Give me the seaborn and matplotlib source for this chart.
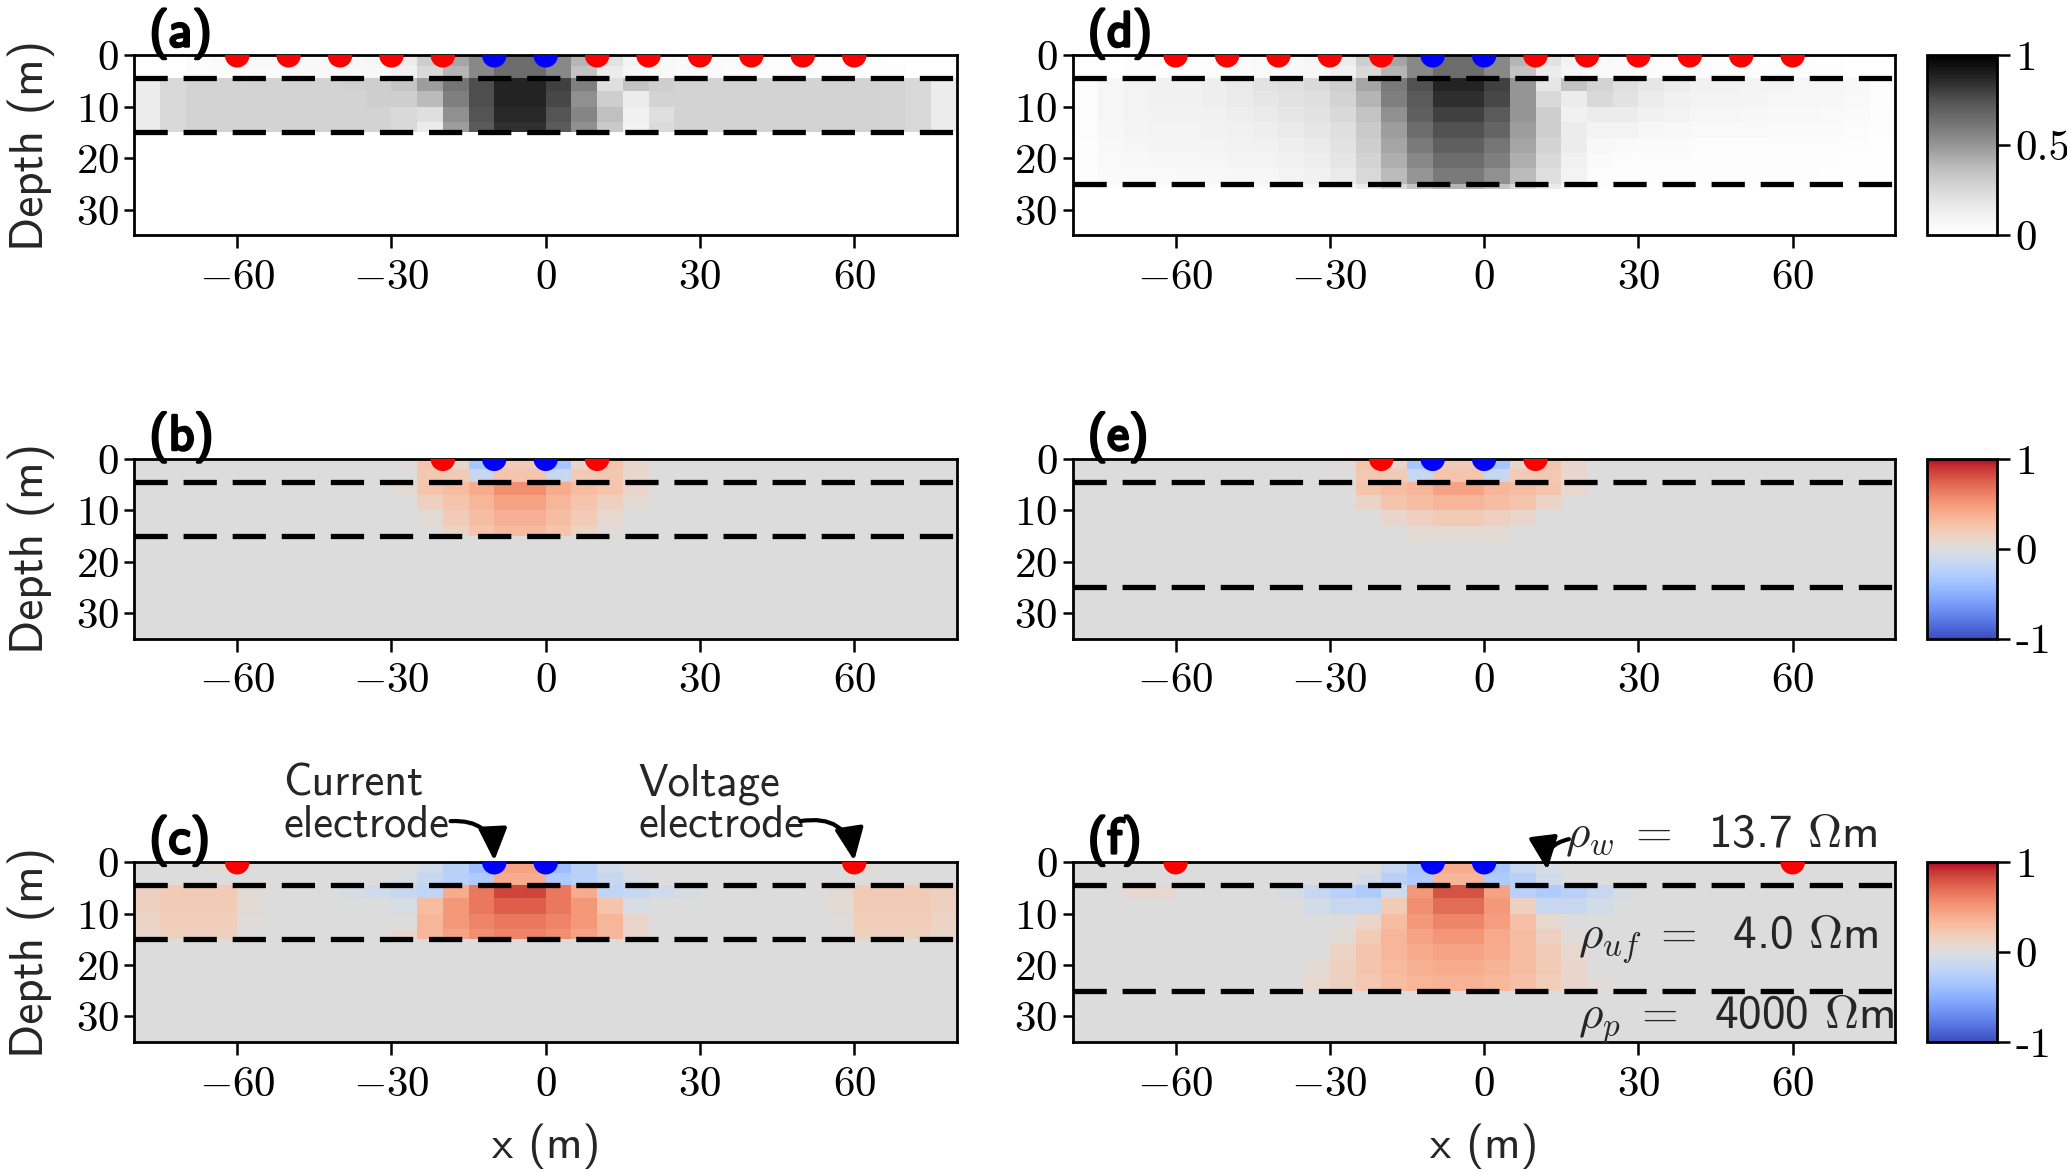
import numpy as np
import pandas as pd
import seaborn as sns
import matplotlib
matplotlib.use("Agg")
import matplotlib.pyplot as plt
from matplotlib import patheffects
from matplotlib.ticker import FuncFormatter

# ---- data -------------------------------------------------------------
x_edges = np.arange(-80, 81, 5)          # 5 m cells from -80 to 80
depth_edges_thin = [0, 2, 4.5, 7, 10, 13, 15, 35]
depth_edges_thick = [0, 2, 4.5, 7, 10, 13, 16, 19, 22, 25, 26, 35]
interfaces_thin = [4.5, 15]
interfaces_thick = [4.5, 25]

current_x = [-10, 0]
potential_all = [-60, -50, -40, -30, -20, 10, 20, 30, 40, 50, 60]
potential_near = [-20, 10]
potential_far = [-60, 60]

# cumulative sensitivity (percent), rows = depth cells, cols = x cells
sens_a = [
    [0, 0, 3, 4, 5, 5, 6, 6, 7, 8, 15, 30, 45, 55, 65, 65, 55, 40, 20, 10, 6, 5, 4, 4, 3, 3, 3, 3, 2, 2, 0, 0],
    [0, 0, 3, 3, 4, 4, 5, 5, 6, 7, 12, 25, 40, 55, 65, 65, 55, 35, 15, 8, 5, 4, 4, 3, 3, 3, 3, 2, 2, 2, 0, 0],
    [15, 25, 28, 28, 28, 28, 28, 28, 29, 30, 34, 48, 62, 76, 88, 88, 80, 58, 22, 35, 30, 28, 28, 28, 28, 28, 28, 28, 28, 27, 25, 15],
    [15, 25, 28, 28, 28, 28, 28, 28, 28, 30, 30, 38, 58, 76, 88, 88, 78, 52, 30, 15, 28, 28, 28, 28, 28, 28, 28, 28, 28, 27, 25, 15],
    [15, 25, 28, 28, 28, 28, 28, 28, 28, 28, 25, 22, 52, 74, 86, 86, 74, 56, 36, 12, 22, 28, 28, 28, 28, 28, 28, 28, 28, 27, 25, 15],
    [15, 25, 28, 28, 28, 28, 28, 28, 28, 28, 25, 15, 48, 72, 84, 84, 72, 52, 32, 10, 24, 28, 28, 28, 28, 28, 28, 28, 28, 27, 25, 15],
    [0, 0, 0, 0, 0, 0, 0, 0, 0, 0, 0, 0, 0, 0, 0, 0, 0, 0, 0, 0, 0, 0, 0, 0, 0, 0, 0, 0, 0, 0, 0, 0],
]
sens_d = [
    [0, 0, 2, 3, 3, 3, 4, 5, 6, 8, 15, 30, 45, 55, 65, 65, 55, 40, 20, 10, 5, 4, 3, 3, 3, 3, 2, 2, 2, 2, 0, 0],
    [0, 0, 2, 2, 3, 3, 4, 5, 6, 7, 12, 25, 40, 55, 65, 65, 55, 35, 15, 8, 5, 4, 3, 3, 3, 3, 2, 2, 2, 2, 0, 0],
    [3, 8, 10, 12, 12, 14, 16, 20, 22, 25, 30, 45, 60, 75, 88, 88, 80, 50, 18, 35, 28, 22, 18, 15, 12, 12, 10, 10, 8, 8, 6, 3],
    [3, 8, 10, 12, 12, 14, 16, 18, 20, 22, 28, 40, 58, 72, 85, 85, 78, 50, 25, 15, 25, 20, 15, 12, 10, 10, 9, 8, 8, 7, 5, 3],
    [3, 8, 10, 11, 11, 12, 14, 16, 18, 20, 25, 35, 52, 70, 80, 80, 72, 50, 30, 12, 15, 15, 12, 10, 8, 8, 7, 6, 6, 5, 4, 2],
    [3, 7, 9, 10, 10, 11, 12, 14, 16, 18, 22, 32, 48, 65, 75, 75, 68, 48, 30, 15, 10, 10, 8, 6, 5, 5, 5, 4, 4, 4, 3, 2],
    [2, 6, 8, 9, 9, 10, 11, 12, 14, 16, 20, 30, 45, 60, 70, 70, 62, 45, 28, 15, 6, 5, 4, 4, 3, 3, 3, 3, 3, 3, 2, 1],
    [2, 5, 6, 7, 7, 8, 9, 10, 12, 14, 18, 28, 42, 55, 65, 65, 58, 42, 25, 12, 4, 3, 3, 3, 2, 2, 2, 2, 2, 2, 1, 1],
    [2, 4, 5, 5, 6, 6, 7, 8, 10, 12, 16, 25, 38, 50, 60, 60, 52, 38, 22, 10, 3, 2, 2, 2, 2, 2, 2, 2, 2, 1, 1, 1],
    [1, 2, 2, 2, 2, 3, 3, 4, 5, 6, 8, 15, 25, 35, 40, 40, 35, 25, 15, 6, 2, 1, 1, 1, 1, 1, 1, 1, 1, 1, 1, 0],
    [0, 0, 0, 0, 0, 0, 0, 0, 0, 0, 0, 0, 0, 0, 0, 0, 0, 0, 0, 0, 0, 0, 0, 0, 0, 0, 0, 0, 0, 0, 0, 0],
]
sens_b = [
    [0, 0, 0, 0, 0, 0, 0, 0, 0, 0, 3, 25, 10, -35, 20, 20, -35, 10, 25, 10, 0, 0, 0, 0, 0, 0, 0, 0, 0, 0, 0, 0],
    [0, 0, 0, 0, 0, 0, 0, 0, 0, 0, 0, 22, 20, -15, 25, 25, -15, 20, 22, 8, 0, 0, 0, 0, 0, 0, 0, 0, 0, 0, 0, 0],
    [0, 0, 0, 0, 0, 0, 0, 0, 0, 0, 5, 25, 30, 40, 55, 55, 40, 30, 25, 10, 0, 0, 0, 0, 0, 0, 0, 0, 0, 0, 0, 0],
    [0, 0, 0, 0, 0, 0, 0, 0, 0, 0, 0, 15, 25, 35, 45, 45, 35, 25, 15, 5, 0, 0, 0, 0, 0, 0, 0, 0, 0, 0, 0, 0],
    [0, 0, 0, 0, 0, 0, 0, 0, 0, 0, 0, 5, 20, 30, 38, 38, 30, 20, 8, 0, 0, 0, 0, 0, 0, 0, 0, 0, 0, 0, 0, 0],
    [0, 0, 0, 0, 0, 0, 0, 0, 0, 0, 0, 0, 12, 25, 32, 32, 25, 12, 3, 0, 0, 0, 0, 0, 0, 0, 0, 0, 0, 0, 0, 0],
    [0, 0, 0, 0, 0, 0, 0, 0, 0, 0, 0, 0, 0, 0, 0, 0, 0, 0, 0, 0, 0, 0, 0, 0, 0, 0, 0, 0, 0, 0, 0, 0],
]
sens_e = [
    [0, 0, 0, 0, 0, 0, 0, 0, 0, 0, 3, 25, 10, -35, 20, 20, -35, 10, 25, 10, 0, 0, 0, 0, 0, 0, 0, 0, 0, 0, 0, 0],
    [0, 0, 0, 0, 0, 0, 0, 0, 0, 0, 0, 22, 20, -15, 25, 25, -15, 20, 22, 8, 0, 0, 0, 0, 0, 0, 0, 0, 0, 0, 0, 0],
    [0, 0, 0, 0, 0, 0, 0, 0, 0, 0, 0, 25, 30, 35, 45, 45, 35, 30, 25, 8, 0, 0, 0, 0, 0, 0, 0, 0, 0, 0, 0, 0],
    [0, 0, 0, 0, 0, 0, 0, 0, 0, 0, 0, 12, 25, 30, 35, 35, 30, 25, 12, 0, 0, 0, 0, 0, 0, 0, 0, 0, 0, 0, 0, 0],
    [0, 0, 0, 0, 0, 0, 0, 0, 0, 0, 0, 0, 10, 15, 20, 20, 15, 10, 0, 0, 0, 0, 0, 0, 0, 0, 0, 0, 0, 0, 0, 0],
    [0, 0, 0, 0, 0, 0, 0, 0, 0, 0, 0, 0, 0, 5, 6, 6, 5, 0, 0, 0, 0, 0, 0, 0, 0, 0, 0, 0, 0, 0, 0, 0],
    [0, 0, 0, 0, 0, 0, 0, 0, 0, 0, 0, 0, 0, 0, 0, 0, 0, 0, 0, 0, 0, 0, 0, 0, 0, 0, 0, 0, 0, 0, 0, 0],
    [0, 0, 0, 0, 0, 0, 0, 0, 0, 0, 0, 0, 0, 0, 0, 0, 0, 0, 0, 0, 0, 0, 0, 0, 0, 0, 0, 0, 0, 0, 0, 0],
    [0, 0, 0, 0, 0, 0, 0, 0, 0, 0, 0, 0, 0, 0, 0, 0, 0, 0, 0, 0, 0, 0, 0, 0, 0, 0, 0, 0, 0, 0, 0, 0],
    [0, 0, 0, 0, 0, 0, 0, 0, 0, 0, 0, 0, 0, 0, 0, 0, 0, 0, 0, 0, 0, 0, 0, 0, 0, 0, 0, 0, 0, 0, 0, 0],
    [0, 0, 0, 0, 0, 0, 0, 0, 0, 0, 0, 0, 0, 0, 0, 0, 0, 0, 0, 0, 0, 0, 0, 0, 0, 0, 0, 0, 0, 0, 0, 0],
]
sens_c = [
    [0, 0, 0, 5, 0, 0, 0, 0, 0, 0, 0, -10, -25, -40, 45, 45, -40, -25, -10, 0, 0, 0, 0, 0, 0, 0, 0, 0, 5, 0, 0, 0],
    [0, 0, 0, 0, 0, 0, 0, 0, 0, 0, -5, -15, -25, -30, 40, 40, -30, -25, -15, -5, 0, 0, 0, 0, 0, 0, 0, 0, 0, 0, 0, 0],
    [15, 20, 20, 20, 5, 0, 0, 0, -5, -10, -15, -20, 40, 65, 85, 85, 65, 40, -20, -15, -10, -5, 0, 0, 0, 0, 0, 5, 20, 20, 20, 15],
    [15, 20, 20, 20, 5, 0, 0, 0, 0, 0, -5, 30, 50, 65, 75, 75, 65, 50, 25, -5, 0, 0, 0, 0, 0, 0, 0, 5, 20, 20, 20, 15],
    [12, 18, 18, 18, 3, 0, 0, 0, 0, 0, 0, 35, 50, 60, 65, 65, 60, 50, 35, 10, 0, 0, 0, 0, 0, 0, 0, 3, 18, 18, 18, 12],
    [10, 15, 15, 15, 0, 0, 0, 0, 0, 0, 10, 35, 45, 55, 60, 60, 55, 45, 35, 10, 0, 0, 0, 0, 0, 0, 0, 0, 15, 15, 15, 10],
    [0, 0, 0, 0, 0, 0, 0, 0, 0, 0, 0, 0, 0, 0, 0, 0, 0, 0, 0, 0, 0, 0, 0, 0, 0, 0, 0, 0, 0, 0, 0, 0],
]
sens_f = [
    [0, 0, 0, 0, 0, 0, 0, 0, 0, 0, 0, 0, -15, -35, 40, 40, -35, -15, -5, 0, 0, 0, 0, 0, 0, 0, 0, 0, 0, 0, 0, 0],
    [0, 0, 0, 0, 0, 0, 0, 0, 0, 0, 0, -8, -25, -30, 35, 35, -30, -25, -10, 0, 0, 0, 0, 0, 0, 0, 0, 0, 0, 0, 0, 0],
    [0, 0, 8, 8, 0, 0, 0, 0, -5, -15, -25, -30, -10, 50, 80, 80, 45, -25, -30, -25, -15, -5, 0, 0, 0, 0, 0, 0, 0, 0, 0, 0],
    [0, 0, 0, 0, 0, 0, 0, 0, 0, -8, -15, -15, 20, 55, 70, 70, 50, 15, -15, -15, -8, 0, 0, 0, 0, 0, 0, 0, 0, 0, 0, 0],
    [0, 0, 0, 0, 0, 0, 0, 0, 0, 0, 0, 10, 30, 50, 60, 60, 48, 28, 8, 0, 0, 0, 0, 0, 0, 0, 0, 0, 0, 0, 0, 0],
    [0, 0, 0, 0, 0, 0, 0, 0, 0, 0, 5, 20, 35, 45, 52, 52, 42, 30, 15, 3, 0, 0, 0, 0, 0, 0, 0, 0, 0, 0, 0, 0],
    [0, 0, 0, 0, 0, 0, 0, 0, 0, 0, 12, 25, 35, 42, 45, 45, 40, 30, 20, 8, 0, 0, 0, 0, 0, 0, 0, 0, 0, 0, 0, 0],
    [0, 0, 0, 0, 0, 0, 0, 0, 0, 5, 15, 25, 32, 38, 40, 40, 36, 30, 20, 10, 0, 0, 0, 0, 0, 0, 0, 0, 0, 0, 0, 0],
    [0, 0, 0, 0, 0, 0, 0, 0, 0, 8, 15, 22, 30, 35, 36, 36, 33, 28, 18, 10, 3, 0, 0, 0, 0, 0, 0, 0, 0, 0, 0, 0],
    [0, 0, 0, 0, 0, 0, 0, 0, 0, 0, 0, 0, 0, 0, 0, 0, 0, 0, 0, 0, 0, 0, 0, 0, 0, 0, 0, 0, 0, 0, 0, 0],
    [0, 0, 0, 0, 0, 0, 0, 0, 0, 0, 0, 0, 0, 0, 0, 0, 0, 0, 0, 0, 0, 0, 0, 0, 0, 0, 0, 0, 0, 0, 0, 0],
]

panels = [
    # label, values, depth edges, interfaces, cmap, vmin, potentials, column, row
    ("(a)", sens_a, depth_edges_thin, interfaces_thin, "Greys", 0, potential_all, 0, 0),
    ("(b)", sens_b, depth_edges_thin, interfaces_thin, "coolwarm", -1, potential_near, 0, 1),
    ("(c)", sens_c, depth_edges_thin, interfaces_thin, "coolwarm", -1, potential_far, 0, 2),
    ("(d)", sens_d, depth_edges_thick, interfaces_thick, "Greys", 0, potential_all, 1, 0),
    ("(e)", sens_e, depth_edges_thick, interfaces_thick, "coolwarm", -1, potential_near, 1, 1),
    ("(f)", sens_f, depth_edges_thick, interfaces_thick, "coolwarm", -1, potential_far, 1, 2),
]

# ---- style ------------------------------------------------------------
sns.set_theme(style="ticks")
FS = 31
plt.rcParams.update({
    "font.family": ["cmss10", "DejaVu Sans"],
    "mathtext.fontset": "cm",
    "axes.unicode_minus": False,
    "axes.linewidth": 2.0,
    "axes.edgecolor": "black",
    "xtick.major.width": 1.8,
    "ytick.major.width": 1.8,
    "xtick.major.size": 9,
    "ytick.major.size": 7,
    "xtick.color": "black",
    "ytick.color": "black",
    "xtick.labelsize": FS,
    "ytick.labelsize": FS,
})

fig = plt.figure(figsize=(20.67, 11.72), dpi=100)

col_left = [0.065, 0.519]
row_top = [0.9528, 0.6085, 0.2643]
ax_w, ax_h = 0.398, 0.1535
cb_left, cb_w = 0.9324, 0.0338

math_fmt = FuncFormatter(lambda v, pos: r"$%g$" % v)
axes = {}

for label, vals, d_edges, ifaces, cmap, vmin, pot_x, col, row in panels:
    ax = fig.add_axes([col_left[col], row_top[row] - ax_h, ax_w, ax_h])
    axes[label] = ax
    mesh = ax.pcolormesh(x_edges, d_edges, np.array(vals) / 100.0,
                         cmap=cmap, vmin=vmin, vmax=1, shading="flat",
                         edgecolors="none", rasterized=True)
    for z in ifaces:
        ax.axhline(z, color="black", lw=3.8, ls=(0, (6.3, 3.0)), zorder=3)

    elec = pd.DataFrame({
        "x": list(pot_x) + current_x,
        "depth": [0] * (len(pot_x) + len(current_x)),
        "kind": ["potential"] * len(pot_x) + ["current"] * len(current_x),
    })
    sns.scatterplot(data=elec, x="x", y="depth", hue="kind",
                    palette={"potential": "red", "current": "blue"},
                    s=310, linewidth=0, legend=False, ax=ax, zorder=4)

    ax.set_xlim(-80, 80)
    ax.set_ylim(35, 0)
    ax.set_xticks([-60, -30, 0, 30, 60])
    ax.set_yticks([0, 10, 20, 30])
    ax.xaxis.set_major_formatter(math_fmt)
    ax.yaxis.set_major_formatter(math_fmt)
    ax.tick_params(axis="x", pad=8)
    ax.tick_params(axis="y", pad=4)
    ax.set_xlabel("x (m)" if row == 2 else "", fontsize=FS + 2, labelpad=14)
    ax.set_ylabel("Depth (m)" if col == 0 else "", fontsize=FS + 3, labelpad=15)
    for sp in ax.spines.values():
        sp.set_linewidth(2.0)

    ax.text(0.018, 1.05, label, transform=ax.transAxes, fontsize=FS + 5,
            va="baseline", ha="left", color="black",
            path_effects=[patheffects.withStroke(linewidth=2.0, foreground="black")])

    if col == 1:
        cax = fig.add_axes([cb_left, row_top[row] - ax_h, cb_w, ax_h])
        if vmin == 0:
            ticks, tlabels = [0, 0.5, 1], ["0", "0.5", "1"]
        else:
            ticks, tlabels = [-1, 0, 1], ["-1", "0", "1"]
        cb = fig.colorbar(mesh, cax=cax, ticks=ticks)
        cb.outline.set_linewidth(2.0)
        cax.set_yticks(ticks)
        cax.set_yticklabels(tlabels, fontfamily="cmr10", fontsize=FS)
        cax.tick_params(axis="y", length=9, width=1.8, pad=4)

# ---- annotations ------------------------------------------------------
arrow_kw = dict(arrowstyle="-|>,head_length=0.9,head_width=0.4", color="black",
                lw=3, mutation_scale=22, shrinkA=0, shrinkB=0)

ax_c = axes["(c)"]
ax_c.text(-51, -3.2, "Current\nelectrode", fontsize=FS + 1, ha="left", va="bottom",
          linespacing=1.0, clip_on=False)
ax_c.annotate("", xy=(-10, -0.3), xytext=(-18.5, -8.0),
              arrowprops=dict(connectionstyle="arc3,rad=-0.5", **arrow_kw),
              annotation_clip=False)
ax_c.text(18, -3.2, "Voltage\nelectrode", fontsize=FS + 1, ha="left", va="bottom",
          linespacing=1.0, clip_on=False)
ax_c.annotate("", xy=(60, -0.3), xytext=(49.5, -8.0),
              arrowprops=dict(connectionstyle="arc3,rad=-0.5", **arrow_kw),
              annotation_clip=False)

ax_f = axes["(f)"]
rho_fs = FS + 3
ax_f.text(15.8, -3.0, r"$\rho_w \; = \;$ 13.7 $\Omega$m", fontsize=rho_fs, ha="left",
          va="baseline", clip_on=False)
ax_f.annotate("", xy=(12.3, 1.5), xytext=(16.5, -4.5),
              arrowprops=dict(connectionstyle="arc3,rad=0.45", **arrow_kw),
              annotation_clip=False)
ax_f.text(18.3, 15, r"$\rho_{uf} \; = \;$ 4.0 $\Omega$m", fontsize=rho_fs, ha="left",
          va="center")
ax_f.text(18.3, 30.5, r"$\rho_p \; = \;$ 4000 $\Omega$m", fontsize=rho_fs, ha="left",
          va="center")

fig.savefig("out.png", dpi=100)
